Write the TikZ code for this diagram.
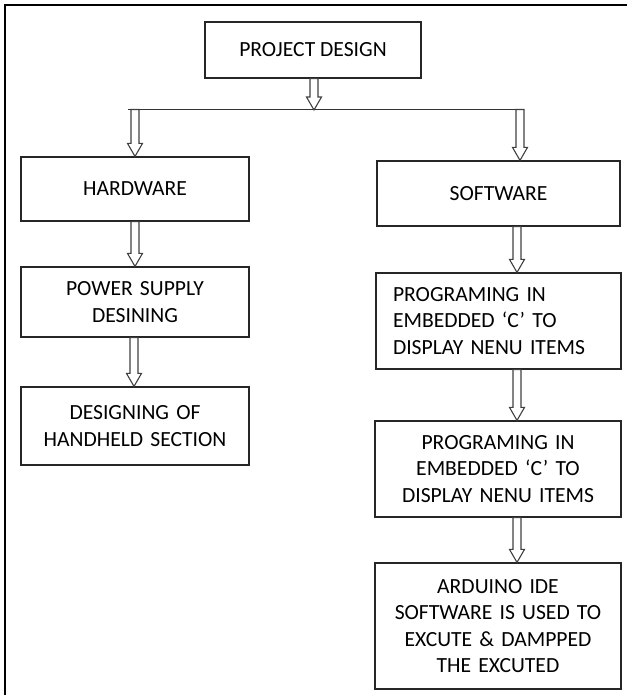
\documentclass[tikz,border=0pt]{standalone}
\usepackage{fontspec}
\setmainfont{Carlito}
\usetikzlibrary{calc}
\tikzset{
  box/.style={draw=black!85, line width=1.2pt, rectangle, inner sep=0pt, align=center,
    font=\fontsize{21.6}{26.5}\selectfont},
  harrow/.style={draw=black!75, line width=1.1pt, line join=miter,
    to path={let \p1=(\tikztostart), \p2=(\tikztotarget) in
      (\x1-4pt,\y1) -- (\x1-4pt,\y2+13pt) -- (\x1-7.5pt,\y2+13pt) -- (\x1,\y2)
      -- (\x1+7.5pt,\y2+13pt) -- (\x1+4pt,\y2+13pt) -- (\x1+4pt,\y1) -- cycle}},
  frame/.style={draw=black, line width=2pt},
  hline/.style={draw=black!80, line width=1.2pt}
}
\begin{document}
\begin{tikzpicture}[x=1pt,y=-1pt]
\useasboundingbox (0,0) rectangle (627,695);
\coordinate (fb) at (5,695);
\coordinate (ftl) at (5,5);
\coordinate (ftr) at (627,5);
\draw[frame] (fb) -- (ftl) -- (ftr);

\node[box, minimum width=216pt, minimum height=56pt] (pd) at (313,50) {PROJECT DESIGN};
\node[box, minimum width=228pt, minimum height=64pt] (hw) at (135,189) {HARDWARE};
\node[box, minimum width=243pt, minimum height=65pt] (sw) at (498.5,193.5) {SOFTWARE};
\node[box, minimum width=228pt, minimum height=70pt, text width=218pt] (ps) at (135,302) {POWER SUPPLY\\DESINING};
\node[box, minimum width=228pt, minimum height=78pt, text width=218pt] (dh) at (135,426) {DESIGNING OF\\HANDHELD SECTION};
\node[box, minimum width=245pt, minimum height=96pt, text width=211pt, align=left] (p1) at (498.5,321) {PROGRAMING IN\\EMBEDDED ‘C’ TO\\DISPLAY NENU ITEMS};
\node[box, minimum width=246pt, minimum height=96pt, text width=236pt] (p2) at (498,469) {PROGRAMING IN\\EMBEDDED ‘C’ TO\\DISPLAY NENU ITEMS};
\node[box, minimum width=246pt, minimum height=126pt, text width=236pt] (ar) at (498,626) {ARDUINO IDE\\SOFTWARE IS USED TO\\EXCUTE \& DAMPPED\\THE EXCUTED};

\coordinate (tj) at (314,110);
\coordinate (hl) at (128,109.5);
\coordinate (hr) at (524,109.5);
\coordinate (la) at (135,109.5);
\coordinate (ra) at (520,109.5);
\coordinate (lc) at (134,0);
\coordinate (sc) at (517,0);

\draw[hline] (hl) -- (hr);
\draw[harrow] (tj |- pd.south) to (tj);
\draw[harrow] (la) to (la |- hw.north);
\draw[harrow] (ra) to (ra |- sw.north);
\draw[harrow] (hw.south) to (ps.north);
\draw[harrow] (lc |- ps.south) to (lc |- dh.north);
\draw[harrow] (sc |- sw.south) to (sc |- p1.north);
\draw[harrow] (sc |- p1.south) to (sc |- p2.north);
\draw[harrow] (sc |- p2.south) to (sc |- ar.north);
\end{tikzpicture}
\end{document}
